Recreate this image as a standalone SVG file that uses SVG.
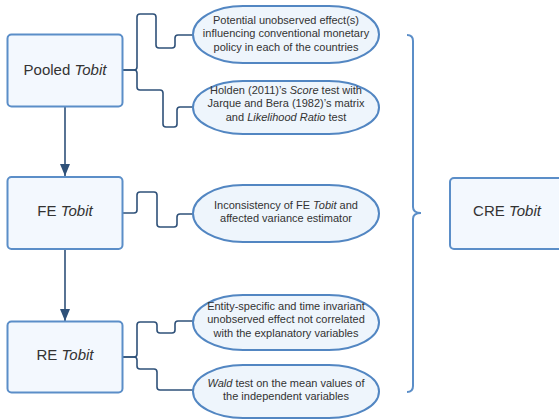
<svg xmlns="http://www.w3.org/2000/svg" width="559" height="420" viewBox="0 0 559 420">
<style>
.box{fill:#f3f8fe;stroke:#5b8ec8;stroke-width:2}
.oval{fill:#eef5fc;stroke:#5286c2;stroke-width:2}
.conn{fill:none;stroke:#2f5179;stroke-width:1.6}
.brace{fill:none;stroke:#5b8ec8;stroke-width:2}
.bt{font-family:"Liberation Sans",Arial,sans-serif;font-size:15px;fill:#333;text-anchor:middle}
.ot{font-family:"Liberation Sans",Arial,sans-serif;font-size:11px;fill:#333;text-anchor:middle}
</style>
<defs>
<marker id="ah" markerWidth="12" markerHeight="10" refX="12" refY="5" orient="auto" markerUnits="userSpaceOnUse" viewBox="0 0 12 10">
<path d="M0,0 L12,5 L0,10 Z" fill="#2f5179"/>
</marker>
</defs>
<g id="connectors">
<path class="conn" d="M122,70 H134 Q137,70 137,67 V17 Q137,14 140,14 H153 Q156,14 156,17 V45 Q156,48 159,48 H172 Q175,48 175,45 V38 Q175,35 178,35 H193"/>
<path class="conn" d="M122,70 H134 Q137,70 137,73 V87 Q137,90 140,90 H160 Q163,90 163,93 V124 Q163,127 166,127 H174 Q177,127 177,124 V110 Q177,107 180,107 H193"/>
<path class="conn" d="M122,213 H134 Q137,213 137,210 V195 Q137,192 140,192 H154 Q157,192 157,195 V224 Q157,227 160,227 H174 Q177,227 177,224 V217 Q177,214 180,214 H193"/>
<path class="conn" d="M122,357 H134 Q137,357 137,354 V325 Q137,322 140,322 H154 Q157,322 157,325 V330 Q157,333 160,333 H172 Q175,333 175,330 V324 Q175,321 178,321 H193"/>
<path class="conn" d="M122,357 H134 Q137,357 137,360 V366 Q137,369 140,369 H154 Q157,369 157,372 V387 Q157,390 160,390 H193"/>
<line class="conn" x1="65" y1="107" x2="65" y2="176" marker-end="url(#ah)"/>
<line class="conn" x1="65" y1="249" x2="65" y2="321" marker-end="url(#ah)"/>
<path class="brace" d="M407,35 Q413,35 413,41 V207 Q413,213 421,213 Q413,213 413,219 V386 Q413,392 407,392"/>
</g>
<g id="pooled">
<rect class="box" x="7.5" y="34.5" width="115" height="72" rx="4"/>
<text class="bt" x="65" y="75">Pooled <tspan font-style="italic">Tobit</tspan></text>
</g>
<g id="fe">
<rect class="box" x="7.5" y="177" width="115" height="72" rx="4"/>
<text class="bt" x="65" y="216">FE <tspan font-style="italic">Tobit</tspan></text>
</g>
<g id="re">
<rect class="box" x="7.5" y="321.5" width="115" height="71" rx="4"/>
<text class="bt" x="65" y="360">RE <tspan font-style="italic">Tobit</tspan></text>
</g>
<g id="cre">
<rect class="box" x="450" y="178" width="120" height="71" rx="4"/>
<text class="bt" x="507" y="216">CRE <tspan font-style="italic">Tobit</tspan></text>
</g>
<g id="e1">
<rect class="oval" x="193" y="6" width="186" height="57" rx="50" ry="28.5"/>
<text class="ot" x="286" y="24">Potential unobserved effect(s)</text>
<text class="ot" x="286" y="37">influencing conventional monetary</text>
<text class="ot" x="286" y="51">policy in each of the countries</text>
</g>
<g id="e2">
<rect class="oval" x="193" y="81" width="186" height="53" rx="50" ry="26.5"/>
<text class="ot" x="286" y="94">Holden (2011)’s <tspan font-style="italic">Score</tspan> test with</text>
<text class="ot" x="286" y="107">Jarque and Bera (1982)’s matrix</text>
<text class="ot" x="286" y="121">and <tspan font-style="italic">Likelihood Ratio</tspan> test</text>
</g>
<g id="e3">
<rect class="oval" x="193" y="185" width="186" height="57" rx="50" ry="28.5"/>
<text class="ot" x="286" y="209">Inconsistency of FE <tspan font-style="italic">Tobit</tspan> and</text>
<text class="ot" x="286" y="222">affected variance estimator</text>
</g>
<g id="e4">
<rect class="oval" x="193" y="295" width="186" height="55" rx="50" ry="27.5"/>
<text class="ot" x="286" y="310">Entity-specific and time invariant</text>
<text class="ot" x="286" y="323">unobserved effect not correlated</text>
<text class="ot" x="286" y="337">with the explanatory variables</text>
</g>
<g id="e5">
<rect class="oval" x="193" y="365" width="186" height="53" rx="50" ry="26.5"/>
<text class="ot" x="286" y="387"><tspan font-style="italic">Wald</tspan> test on the mean values of</text>
<text class="ot" x="286" y="400">the independent variables</text>
</g>
</svg>
